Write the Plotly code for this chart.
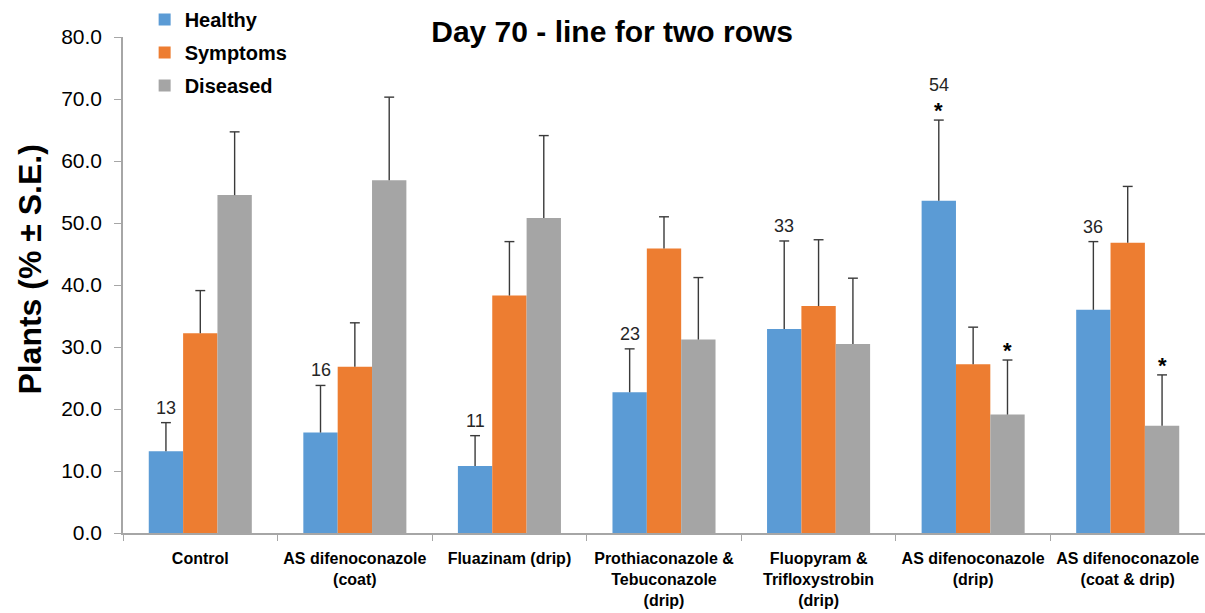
import plotly.graph_objects as go

# Treatments along the x axis
categories = [
    "Control",
    "AS difenoconazole<br>(coat)",
    "Fluazinam (drip)",
    "Prothiaconazole &<br>Tebuconazole<br>(drip)",
    "Fluopyram &<br>Trifloxystrobin<br>(drip)",
    "AS difenoconazole<br>(drip)",
    "AS difenoconazole<br>(coat & drip)",
]

# Mean percentage of plants per class
healthy = [13.2, 16.2, 10.8, 22.7, 32.9, 53.6, 36.0]
symptoms = [32.2, 26.8, 38.3, 45.9, 36.6, 27.2, 46.8]
diseased = [54.5, 56.9, 50.8, 31.2, 30.5, 19.1, 17.3]

# Standard errors
healthy_se = [4.6, 7.6, 4.9, 7.0, 14.2, 13.0, 11.0]
symptoms_se = [6.9, 7.1, 8.7, 5.1, 10.7, 6.0, 9.1]
diseased_se = [10.2, 13.4, 13.3, 10.0, 10.6, 8.8, 8.2]

# Significance markers (True = asterisk above the bar)
healthy_sig = [False, False, False, False, False, True, False]
diseased_sig = [False, False, False, False, False, True, True]

series = [
    ("Healthy", healthy, healthy_se, "#5b9bd5"),
    ("Symptoms", symptoms, symptoms_se, "#ed7d31"),
    ("Diseased", diseased, diseased_se, "#a5a5a5"),
]

bargap = 1 / 3
bw = (1 - bargap) / 3
offsets = [-bw, 0.0, bw]
cap_half = 0.032  # half width of an error-bar cap, in category units

fig = go.Figure()
for name, vals, se, col in series:
    fig.add_trace(go.Bar(
        name=f"<b>{name}</b>", x=categories, y=vals,
        marker=dict(color=col, line=dict(width=0)),
        legendgroup=name,
    ))

# Upper-only error bars (stem + top cap) drawn on a hidden numeric overlay axis
for (name, vals, se, col), off in zip(series, offsets):
    xs, ys = [], []
    for k, (v, e) in enumerate(zip(vals, se)):
        xc = k + off
        xs += [xc, xc, None, xc - cap_half, xc + cap_half, None]
        ys += [v, v + e, None, v + e, v + e, None]
    fig.add_trace(go.Scatter(
        x=xs, y=ys, xaxis="x2", yaxis="y", mode="lines",
        line=dict(color="#3a3a3a", width=1.4), showlegend=False,
        hoverinfo="skip", connectgaps=False,
    ))

annotations = []
num_font = dict(family="Liberation Sans, Arial, sans-serif", size=18, color="#262626")
star_font = dict(family="Liberation Sans, Arial, sans-serif", size=22, color="#000000")

for k, (v, e) in enumerate(zip(healthy, healthy_se)):
    top = v + e
    shift = 3
    if healthy_sig[k]:
        annotations.append(dict(x=k + offsets[0], y=top, text="<b>*</b>", showarrow=False,
                                yanchor="bottom", yshift=-5, font=star_font,
                                xref="x2", yref="y"))
        shift = 23
    annotations.append(dict(x=k + offsets[0], y=top, text=f"{round(v)}", showarrow=False,
                            yanchor="bottom", yshift=shift, font=num_font,
                            xref="x2", yref="y"))

for k, (v, e) in enumerate(zip(diseased, diseased_se)):
    if diseased_sig[k]:
        annotations.append(dict(x=k + offsets[2], y=v + e, text="<b>*</b>", showarrow=False,
                                yanchor="bottom", yshift=-5, font=star_font,
                                xref="x2", yref="y"))

# Vertical y-axis title
annotations.append(dict(
    text="<b>Plants (% ± S.E.)</b>", textangle=-90, showarrow=False,
    xref="paper", yref="paper", x=-0.0855, y=0.532, xanchor="center", yanchor="middle",
    font=dict(family="Liberation Sans, Arial, sans-serif", size=32, color="#000000"),
))

axis_grey = "#a6a6a6"

fig.update_layout(
    width=1205, height=613,
    margin=dict(l=123, r=0, t=37, b=80),
    paper_bgcolor="white", plot_bgcolor="white",
    barmode="group", bargap=bargap, bargroupgap=0,
    title=dict(text="<b>Day 70 - line for two rows</b>", x=0.508, xanchor="center",
               y=0.948, yanchor="middle",
               font=dict(family="Liberation Sans, Arial, sans-serif", size=30, color="#000000")),
    legend=dict(x=0.02, y=1.075, xanchor="left", yanchor="top",
                bgcolor="rgba(0,0,0,0)", tracegroupgap=4,
                font=dict(family="Liberation Sans, Arial, sans-serif", size=20, color="#000000"),
                itemwidth=30),
    xaxis=dict(
        type="category", showline=True, linecolor=axis_grey, linewidth=1.5,
        ticks="outside", tickson="boundaries", ticklen=6, tickcolor=axis_grey,
        ticklabelstandoff=10, tickangle=0, automargin=False,
        tickvals=categories, ticktext=[f"<b>{c}</b>" for c in categories],
        tickfont=dict(family="Liberation Sans, Arial, sans-serif", size=16, color="#000000"),
        showgrid=False,
    ),
    xaxis2=dict(
        overlaying="x", range=[-0.5, len(categories) - 0.5], visible=False,
        showgrid=False, zeroline=False,
    ),
    yaxis=dict(
        range=[0, 80], dtick=10, tickformat=".1f", automargin=False,
        showline=True, linecolor=axis_grey, linewidth=1.5,
        ticks="outside", ticklen=7, tickcolor=axis_grey, ticklabelstandoff=8,
        tickfont=dict(family="Liberation Sans, Arial, sans-serif", size=21, color="#000000"),
        showgrid=False, zeroline=False,
    ),
    annotations=annotations,
)

fig.write_html("out.html")
